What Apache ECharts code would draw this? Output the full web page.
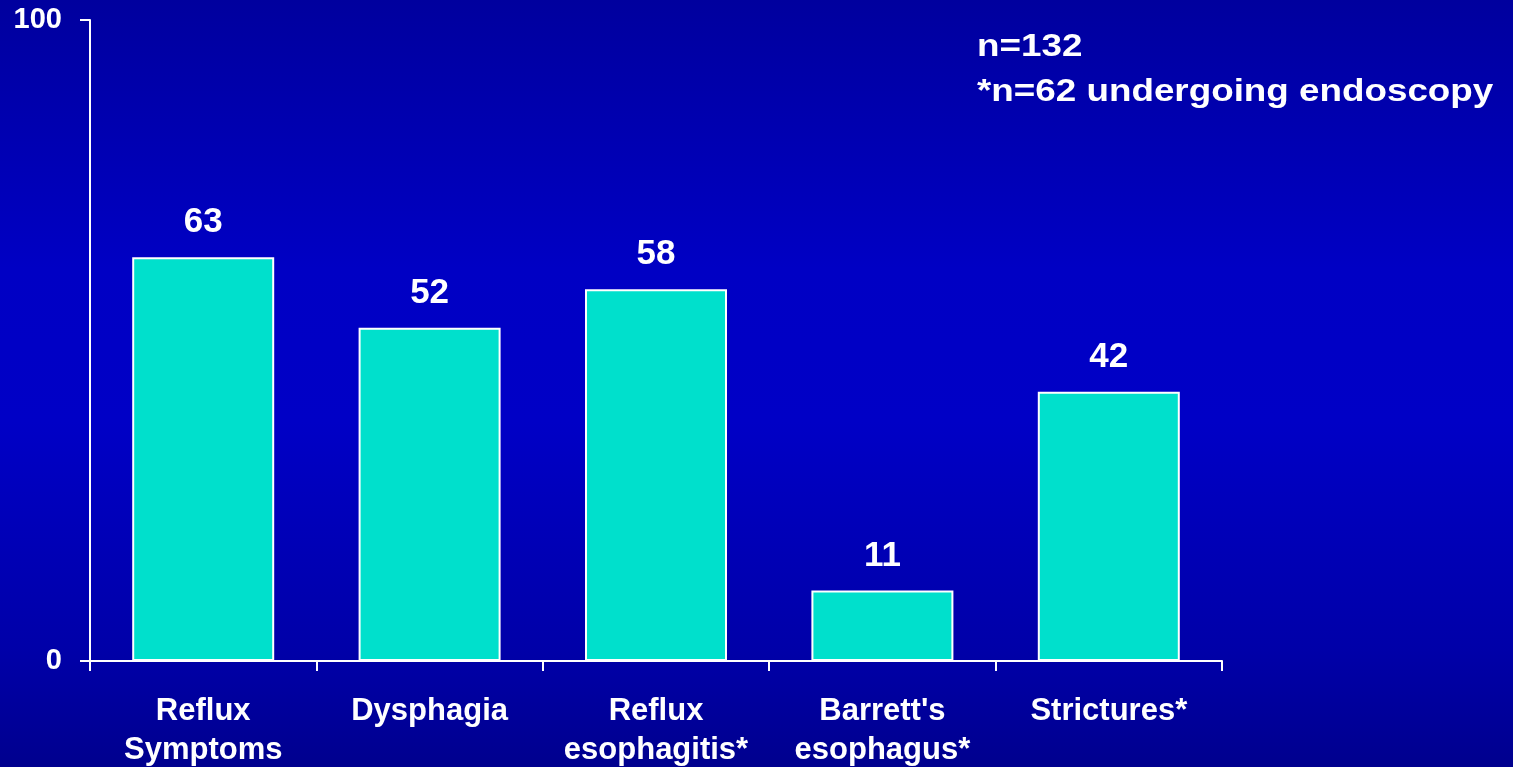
<!DOCTYPE html>
<html>
<head>
<meta charset="utf-8">
<script src="https://cdn.jsdelivr.net/npm/echarts@6/dist/echarts.min.js"></script>
<style>
  html, body { margin: 0; padding: 0; }
  body {
    width: 1513px; height: 767px; overflow: hidden;
    background: linear-gradient(to bottom, #00009e 0%, #0000c4 35%, #0000c6 55%, #0000a8 85%, #00008e 100%);
  }
  #chart { width: 1513px; height: 767px; }
</style>
</head>
<body>
<div id="chart"></div>
<script>
// 数据
const categories = ['Reflux\nSymptoms', 'Dysphagia', 'Reflux\nesophagitis*', "Barrett's\nesophagus*", 'Strictures*'];
const values = [63, 52, 58, 11, 42];
const yMin = 0;
const yMax = 100;
const notes = ['n=132', '*n=62 undergoing endoscopy'];

const FONT = '"Liberation Sans", Arial, sans-serif';
const white = '#ffffff';

const options = {
  backgroundColor: 'transparent',
  animation: false,
  grid: {
    left: 90,
    right: 291,
    top: 20,
    bottom: 106,
    containLabel: false,
    outerBoundsMode: 'none'
  },
  xAxis: {
    type: 'category',
    data: categories,
    axisLine: { lineStyle: { color: white, width: 2 } },
    axisTick: { show: true, length: 10, lineStyle: { color: white, width: 2 } },
    axisLabel: {
      color: white,
      fontFamily: FONT,
      fontWeight: 'bold',
      fontSize: 31,
      lineHeight: 39,
      margin: 31,
      interval: 0
    }
  },
  yAxis: {
    type: 'value',
    min: yMin,
    max: yMax,
    interval: yMax - yMin,
    splitLine: { show: false },
    axisLine: { show: true, lineStyle: { color: white, width: 2 } },
    axisTick: { show: true, length: 10, lineStyle: { color: white, width: 2 } },
    axisLabel: {
      color: white,
      fontFamily: FONT,
      fontWeight: 'bold',
      fontSize: 29,
      margin: 28
    }
  },
  series: [
    {
      type: 'bar',
      data: values,
      barWidth: 142,
      itemStyle: {
        color: '#00e0cc',
        borderColor: white,
        borderWidth: 2
      },
      label: {
        show: true,
        position: 'top',
        distance: 17,
        color: white,
        fontFamily: FONT,
        fontWeight: 'bold',
        fontSize: 35
      }
    }
  ],
  graphic: notes.map((t, i) => ({
    type: 'text',
    x: 977,
    y: 47 + i * 45,
    scaleX: 1.15,
    style: {
      text: t,
      fill: white,
      font: 'bold 32px ' + FONT,
      verticalAlign: 'middle'
    }
  }))
};

const myChart = echarts.init(document.getElementById('chart'));
myChart.setOption(options);
</script>
</body>
</html>
